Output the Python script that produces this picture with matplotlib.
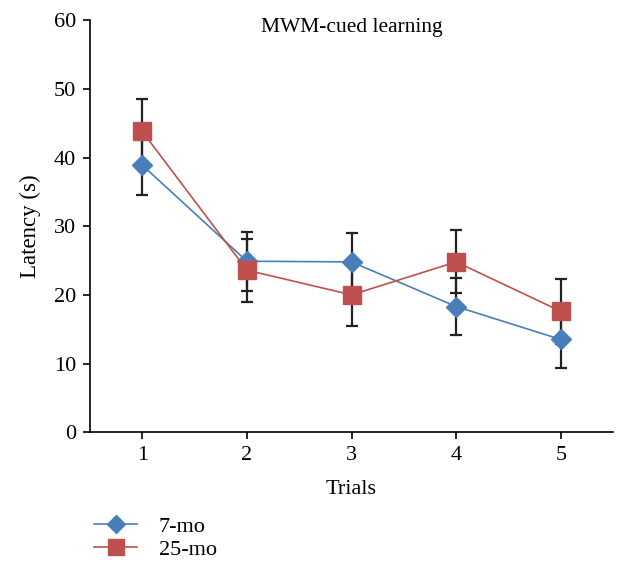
import matplotlib
matplotlib.use("Agg")
from matplotlib import pyplot as plt

plt.rcParams['font.family'] = ['Liberation Serif', 'DejaVu Serif']

trials = [1, 2, 3, 4, 5]
young = [38.9, 24.9, 24.8, 18.3, 13.5]      # 7-mo
young_err = [4.4, 4.3, 4.2, 4.1, 4.2]
old = [43.8, 23.6, 20.0, 24.8, 17.6]        # 25-mo
old_err = [4.7, 4.6, 4.6, 4.6, 4.7]

blue = "#4A7EBB"
red = "#C0504D"

fig = plt.figure(figsize=(6.2, 5.62), dpi=100)
ax = fig.add_axes([0.145, 0.231, 0.844, 0.733])

ax.errorbar(trials, young, yerr=young_err, color=blue, lw=1.2,
            marker="D", markersize=10.5, markerfacecolor=blue, markeredgecolor=blue,
            ecolor="#222222", elinewidth=1.6, capsize=4.5, capthick=1.6,
            label="7-mo", zorder=3)
ax.errorbar(trials, old, yerr=old_err, color=red, lw=1.2,
            marker="s", markersize=13, markerfacecolor=red, markeredgecolor=red,
            ecolor="#222222", elinewidth=1.6, capsize=4.5, capthick=1.6,
            label="25-mo", zorder=3)

ax.set_xlim(0.5, 5.5)
ax.set_ylim(0, 60)
ax.set_yticks(range(0, 61, 10))
ax.set_xticks(trials)
ax.spines["top"].set_visible(False)
ax.spines["right"].set_visible(False)
ax.spines["left"].set_linewidth(1.2)
ax.spines["bottom"].set_linewidth(1.2)
ax.tick_params(direction="out", length=5, width=1.2, labelsize=16, pad=5)

ax.set_xlabel("Trials", fontsize=16, labelpad=11)
ax.set_ylabel("Latency (s)", fontsize=16.5, labelpad=9)
ax.text(0.5, 1.005, "MWM-cued learning", transform=ax.transAxes,
        ha="center", va="top", fontsize=15.5)

handles, labels = ax.get_legend_handles_labels()
handles = [h[0] for h in handles]
fig.legend(handles, labels, loc="upper left", bbox_to_anchor=(0.138, 0.097),
           frameon=False, fontsize=16, handlelength=1.9, labelspacing=0.1,
           handletextpad=1.0, markerscale=0.85, borderaxespad=0)

plt.savefig("out.png", dpi=100)
